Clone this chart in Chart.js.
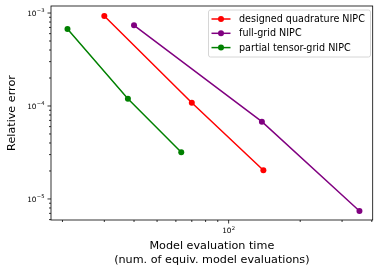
<!DOCTYPE html>
<html><head><meta charset="utf-8">
<script src="https://cdn.jsdelivr.net/npm/chart.js@4"></script>
<style>html,body{margin:0;padding:0;background:#fff}</style>
</head><body>
<canvas id="c" width="381" height="273" style="width:381px;height:273px;display:block"></canvas>
<script>
// ---- data ----
const seriesLabels = ['designed quadrature NIPC', 'full-grid NIPC', 'partial tensor-grid NIPC'];
const seriesColors = ['#ff0000', '#800080', '#008000'];
const quadX = [30, 70, 140];
const quadY = [9.3e-4, 1.085e-4, 2.04e-5];
const fullX = [40, 138, 355];
const fullY = [7.38e-4, 6.78e-5, 7.43e-6];
const partX = [21, 37.7, 63.2];
const partY = [6.73e-4, 1.198e-4, 3.18e-5];
const xTicks = [20, 30, 40, 50, 60, 70, 80, 90, 100, 200, 300, 400];
const yTicks = [6e-6, 7e-6, 8e-6, 9e-6, 1e-5, 2e-5, 3e-5, 4e-5, 5e-5, 6e-5, 7e-5, 8e-5, 9e-5,
                1e-4, 2e-4, 3e-4, 4e-4, 5e-4, 6e-4, 7e-4, 8e-4, 9e-4, 1e-3];
const xRange = [17.9, 403.6];
const yRange = [5.94e-6, 1.19e-3];
const xTitle = ['Model evaluation time', '(num. of equiv. model evaluations)'];
const yTitle = 'Relative error';

const FONT = '"DejaVu Sans", sans-serif';
const isPow10 = v => Math.abs(Math.log10(v) - Math.round(Math.log10(v))) < 1e-9;
const pts = (xs, ys) => xs.map((x, i) => ({x, y: ys[i]}));

function drawPow(ctx, exp, xRight, xCenter, yMid, align) {
  const base = '10', sup = String(exp).replace('-', '\u2212');
  const bf = 7.3, sf = 5.2;
  ctx.font = bf + 'px ' + FONT;
  const bw = ctx.measureText(base).width;
  ctx.font = sf + 'px ' + FONT;
  const sw = ctx.measureText(sup).width;
  const total = bw + sw + 0.4;
  let x0 = align === 'right' ? xRight - total : xCenter - total / 2;
  ctx.textBaseline = 'alphabetic';
  ctx.textAlign = 'left';
  ctx.font = bf + 'px ' + FONT;
  ctx.fillText(base, x0, yMid + bf * 0.36);
  ctx.font = sf + 'px ' + FONT;
  ctx.fillText(sup, x0 + bw + 0.4, yMid + bf * 0.36 - bf * 0.45);
}

const frame = {
  id: 'frame',
  afterDraw(chart) {
    const {ctx, chartArea: a, scales: {x, y}} = chart;
    ctx.save();
    ctx.strokeStyle = '#000';
    ctx.fillStyle = '#000';
    ctx.lineWidth = 0.8;
    x.ticks.forEach(t => {
      const px = x.getPixelForValue(t.value);
      if (px < a.left - 0.5 || px > a.right + 0.5) return;
      const len = isPow10(t.value) ? 3.5 : 2;
      ctx.beginPath(); ctx.moveTo(px, a.bottom); ctx.lineTo(px, a.bottom + len); ctx.stroke();
      if (isPow10(t.value)) drawPow(ctx, Math.round(Math.log10(t.value)), 0, px, a.bottom + 10.5, 'center');
    });
    y.ticks.forEach(t => {
      const py = y.getPixelForValue(t.value);
      if (py < a.top - 0.5 || py > a.bottom + 0.5) return;
      const len = isPow10(t.value) ? 3.5 : 2;
      ctx.beginPath(); ctx.moveTo(a.left, py); ctx.lineTo(a.left - len, py); ctx.stroke();
      if (isPow10(t.value)) drawPow(ctx, Math.round(Math.log10(t.value)), a.left - 6.5, 0, py, 'right');
    });
    ctx.strokeRect(a.left, a.top, a.right - a.left, a.bottom - a.top);
    ctx.font = '11.2px ' + FONT;
    ctx.textAlign = 'center';
    ctx.textBaseline = 'middle';
    const cx = (a.left + a.right) / 2;
    ctx.fillText(xTitle[0], cx, 246.5);
    ctx.fillText(xTitle[1], cx, 260.5);
    ctx.save();
    ctx.translate(12.5, (a.top + a.bottom) / 2);
    ctx.rotate(-Math.PI / 2);
    ctx.fillText(yTitle, 0, 0);
    ctx.restore();
    const lx = 208.5, ly = 10, lw = 162, lh = 47;
    ctx.beginPath();
    ctx.roundRect(lx, ly, lw, lh, 2);
    ctx.fillStyle = 'rgba(255,255,255,0.8)';
    ctx.fill();
    ctx.strokeStyle = '#cccccc';
    ctx.stroke();
    chart.data.datasets.forEach((ds, i) => {
      const yy = 19 + i * 14.3;
      ctx.strokeStyle = ds.borderColor;
      ctx.fillStyle = ds.borderColor;
      ctx.lineWidth = 1.5;
      ctx.beginPath(); ctx.moveTo(211.5, yy); ctx.lineTo(230.5, yy); ctx.stroke();
      ctx.beginPath(); ctx.arc(221, yy, 3, 0, Math.PI * 2); ctx.fill();
      ctx.fillStyle = '#000';
      ctx.font = '9.6px ' + FONT;
      ctx.textAlign = 'left';
      ctx.textBaseline = 'middle';
      ctx.fillText(ds.label, 239, yy + 0.5);
    });
    ctx.restore();
  }
};

const mk = (i, xs, ys) => ({
  label: seriesLabels[i],
  data: pts(xs, ys),
  borderColor: seriesColors[i],
  backgroundColor: seriesColors[i],
  borderWidth: 1.5,
  pointRadius: 3,
  pointBorderWidth: 0,
  pointHoverRadius: 3,
  tension: 0,
  clip: false
});

new Chart(document.getElementById('c'), {
  type: 'line',
  data: {datasets: [mk(0, quadX, quadY), mk(1, fullX, fullY), mk(2, partX, partY)]},
  options: {
    responsive: false,
    animation: false,
    devicePixelRatio: 1,
    events: [],
    layout: {padding: {top: 6, right: 8.3, left: 0, bottom: 0}},
    plugins: {legend: {display: false}, tooltip: {enabled: false}},
    scales: {
      x: {
        type: 'logarithmic', min: xRange[0], max: xRange[1],
        afterBuildTicks: s => { s.ticks = xTicks.map(v => ({value: v})); },
        afterFit: s => { s.height = 53; },
        grid: {display: false}, border: {display: false},
        ticks: {display: false}
      },
      y: {
        type: 'logarithmic', min: yRange[0], max: yRange[1],
        afterBuildTicks: s => { s.ticks = yTicks.map(v => ({value: v})); },
        afterFit: s => { s.width = 51; },
        grid: {display: false}, border: {display: false},
        ticks: {display: false}
      }
    }
  },
  plugins: [frame]
});
</script>
</body></html>
